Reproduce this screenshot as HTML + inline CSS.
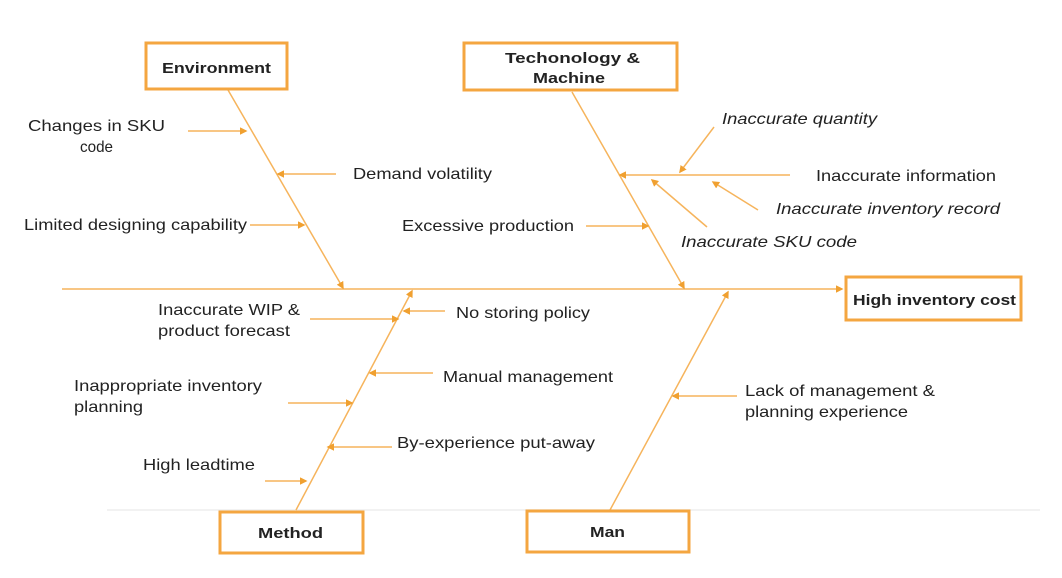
<!DOCTYPE html>
<html><head><meta charset="utf-8"><style>
html,body{margin:0;padding:0;background:#fff;}
svg{display:block;}
text{font-family:"Liberation Sans",Arial,sans-serif;fill:#222;}
</style></head><body>
<svg width="1062" height="578" viewBox="0 0 1062 578" xmlns="http://www.w3.org/2000/svg">
<defs>
<marker id="a" viewBox="0 0 10 10" refX="8" refY="5" markerWidth="5" markerHeight="5" orient="auto">
<path d="M0,0 L10,5 L0,10 z" fill="#f0a030"/></marker>
</defs>
<line x1="107" y1="510" x2="1040" y2="510" stroke="#eee" stroke-width="1.5"/>
<g stroke="#f6b45c" stroke-width="1.5" fill="none">
<line x1="62" y1="289" x2="842" y2="289" marker-end="url(#a)"/>
<line x1="228" y1="90" x2="343" y2="288" marker-end="url(#a)"/>
<line x1="572" y1="92" x2="684" y2="288" marker-end="url(#a)"/>
<line x1="296" y1="510" x2="412" y2="291" marker-end="url(#a)"/>
<line x1="610" y1="510" x2="728" y2="292" marker-end="url(#a)"/>
<line x1="188" y1="131" x2="246" y2="131" marker-end="url(#a)"/>
<line x1="336" y1="174" x2="278" y2="174" marker-end="url(#a)"/>
<line x1="250" y1="225" x2="304" y2="225" marker-end="url(#a)"/>
<line x1="790" y1="175" x2="620" y2="175" marker-end="url(#a)"/>
<line x1="714" y1="127" x2="680" y2="172" marker-end="url(#a)"/>
<line x1="707" y1="227" x2="652" y2="180" marker-end="url(#a)"/>
<line x1="758" y1="210" x2="713" y2="182" marker-end="url(#a)"/>
<line x1="586" y1="226" x2="648" y2="226" marker-end="url(#a)"/>
<line x1="445" y1="311" x2="404" y2="311" marker-end="url(#a)"/>
<line x1="310" y1="319" x2="398" y2="319" marker-end="url(#a)"/>
<line x1="433" y1="373" x2="370" y2="373" marker-end="url(#a)"/>
<line x1="288" y1="403" x2="352" y2="403" marker-end="url(#a)"/>
<line x1="392" y1="447" x2="328" y2="447" marker-end="url(#a)"/>
<line x1="265" y1="481" x2="306" y2="481" marker-end="url(#a)"/>
<line x1="737" y1="396" x2="673" y2="396" marker-end="url(#a)"/>
</g>
<g fill="#fff" stroke="#f4a640" stroke-width="3">
<rect x="146" y="43" width="141" height="46"/>
<rect x="464" y="43" width="213" height="47"/>
<rect x="846" y="277" width="175" height="43"/>
<rect x="220" y="512" width="143" height="41"/>
<rect x="527" y="511" width="162" height="41"/>
</g>
<g font-weight="bold" font-size="14.5">
<text x="162" y="73" textLength="109" lengthAdjust="spacingAndGlyphs">Environment</text>
<text x="505" y="63" textLength="135" lengthAdjust="spacingAndGlyphs">Techonology &amp;</text>
<text x="533" y="83" textLength="72" lengthAdjust="spacingAndGlyphs">Machine</text>
<text x="853" y="305" textLength="163" lengthAdjust="spacingAndGlyphs">High inventory cost</text>
<text x="258" y="538" textLength="65" lengthAdjust="spacingAndGlyphs">Method</text>
<text x="590" y="537" textLength="35" lengthAdjust="spacingAndGlyphs">Man</text>
</g>
<g font-size="16">
<text x="28" y="131" textLength="137" lengthAdjust="spacingAndGlyphs">Changes in SKU</text>
<text x="80" y="152" textLength="33" lengthAdjust="spacingAndGlyphs">code</text>
<text x="353" y="179" textLength="139" lengthAdjust="spacingAndGlyphs">Demand volatility</text>
<text x="24" y="230" textLength="223" lengthAdjust="spacingAndGlyphs">Limited designing capability</text>
<text x="402" y="231" textLength="172" lengthAdjust="spacingAndGlyphs">Excessive production</text>
<text x="816" y="181" textLength="180" lengthAdjust="spacingAndGlyphs">Inaccurate information</text>
<text x="722" y="124" font-style="italic" textLength="155" lengthAdjust="spacingAndGlyphs">Inaccurate quantity</text>
<text x="776" y="214" font-style="italic" textLength="224" lengthAdjust="spacingAndGlyphs">Inaccurate inventory record</text>
<text x="681" y="247" font-style="italic" textLength="176" lengthAdjust="spacingAndGlyphs">Inaccurate SKU code</text>
<text x="158" y="315" textLength="142" lengthAdjust="spacingAndGlyphs">Inaccurate WIP &amp;</text>
<text x="158" y="336" textLength="132" lengthAdjust="spacingAndGlyphs">product forecast</text>
<text x="456" y="318" textLength="134" lengthAdjust="spacingAndGlyphs">No storing policy</text>
<text x="443" y="382" textLength="170" lengthAdjust="spacingAndGlyphs">Manual management</text>
<text x="74" y="391" textLength="188" lengthAdjust="spacingAndGlyphs">Inappropriate inventory</text>
<text x="74" y="412" textLength="69" lengthAdjust="spacingAndGlyphs">planning</text>
<text x="397" y="448" textLength="198" lengthAdjust="spacingAndGlyphs">By-experience put-away</text>
<text x="143" y="470" textLength="112" lengthAdjust="spacingAndGlyphs">High leadtime</text>
<text x="745" y="396" textLength="190" lengthAdjust="spacingAndGlyphs">Lack of management &amp;</text>
<text x="745" y="417" textLength="163" lengthAdjust="spacingAndGlyphs">planning experience</text>
</g>
</svg>
</body></html>
